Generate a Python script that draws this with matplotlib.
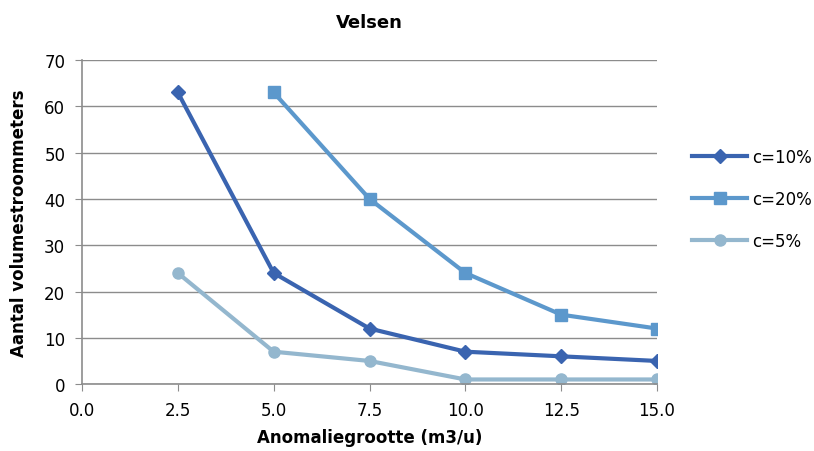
import matplotlib
matplotlib.use("Agg")
import matplotlib.pyplot as plt

# Data
x_vals = [2.5, 5.0, 7.5, 10.0, 12.5, 15.0]
c10 = [63, 24, 12, 7, 6, 5]
x_c20 = [5.0, 7.5, 10.0, 12.5, 15.0]
c20 = [63, 40, 24, 15, 12]
c5 = [24, 7, 5, 1, 1, 1]

x_ticks = [0.0, 2.5, 5.0, 7.5, 10.0, 12.5, 15.0]
y_ticks = [0, 10, 20, 30, 40, 50, 60, 70]

plt.rcParams["font.family"] = ["DejaVu Sans"]

fig = plt.figure(figsize=(8.14, 4.52), dpi=100)
ax = fig.add_axes([0.1007, 0.148, 0.7065, 0.717])

ax.plot(x_vals, c10, color="#3A64B0", lw=3, marker="D", ms=7, label="c=10%")
ax.plot(x_c20, c20, color="#5C98CC", lw=3, marker="s", ms=8, label="c=20%")
ax.plot(x_vals, c5, color="#94B7CE", lw=3, marker="o", ms=8, label="c=5%")

ax.set_xlim(0, 15)
ax.set_ylim(0, 70)
ax.set_xticks(x_ticks)
ax.set_xticklabels([f"{t:.1f}" for t in x_ticks])
ax.set_yticks(y_ticks)
ax.yaxis.grid(True, color="#8C8C8C", lw=1)
ax.set_axisbelow(True)
for s in ["top", "right"]:
    ax.spines[s].set_visible(False)
for s in ["left", "bottom"]:
    ax.spines[s].set_color("#8C8C8C")
    ax.spines[s].set_linewidth(1.2)
ax.tick_params(direction="out", color="#8C8C8C", length=5, labelsize=12, pad=7)

ax.set_title("Velsen", fontsize=13, fontweight="bold", pad=24)
ax.set_xlabel("Anomaliegrootte (m3/u)", fontsize=12, fontweight="bold", labelpad=7)
ax.set_ylabel("Aantal volumestroommeters", fontsize=12, fontweight="bold", labelpad=12)

ax.legend(loc="center left", bbox_to_anchor=(1.035, 0.571), frameon=False,
          fontsize=12, handlelength=3.3, labelspacing=1.45, handletextpad=0.3)

fig.savefig("out.png", dpi=100)
